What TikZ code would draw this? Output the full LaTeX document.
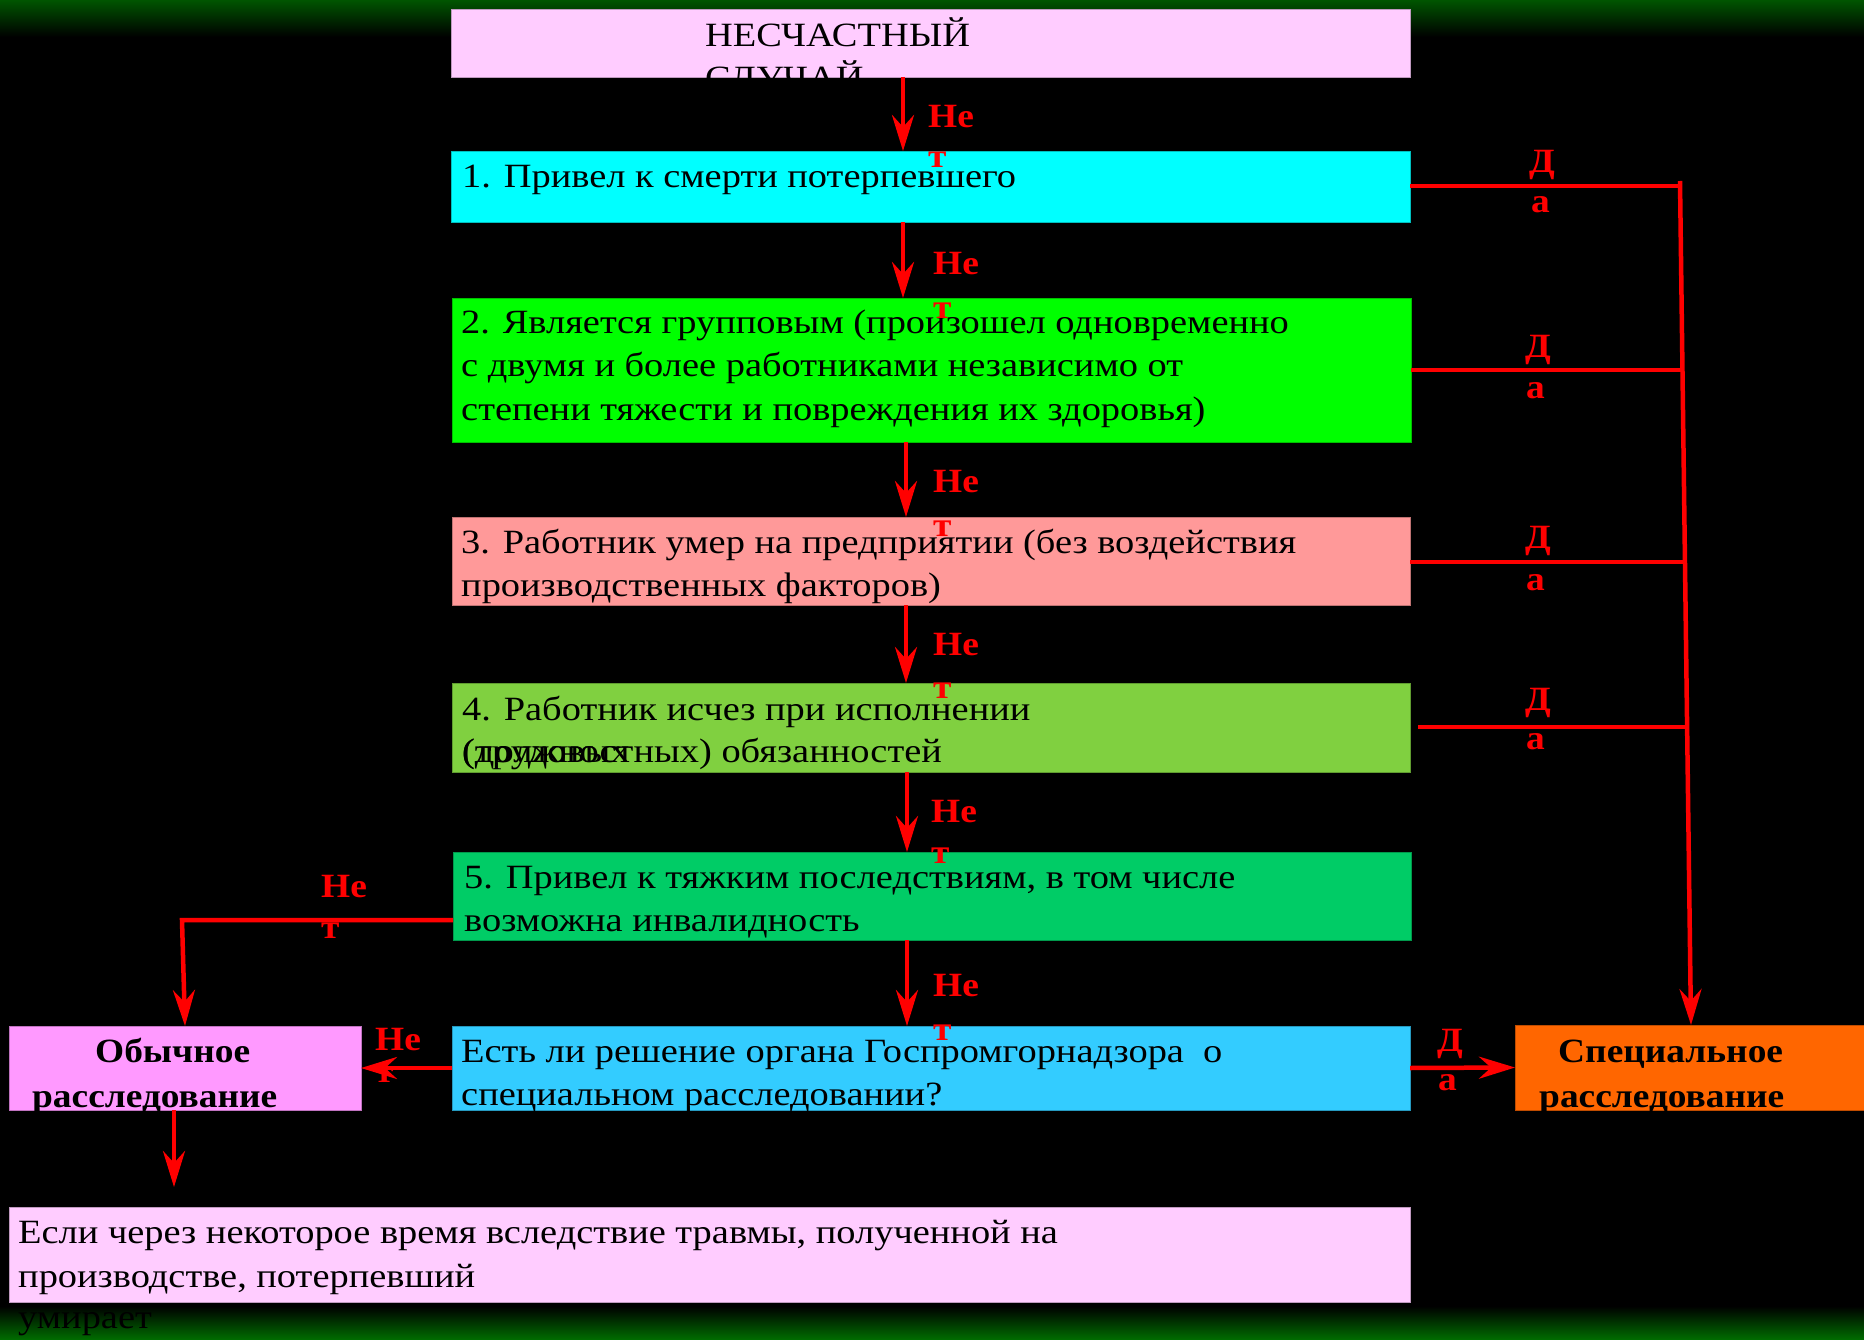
\documentclass[tikz,border=0pt]{standalone}
\usepackage{fontspec}
\setmainfont[FakeStretch=1.1]{Liberation Serif}
\newfontfamily\bodyfont[FakeStretch=1.13]{Liberation Serif}
\usetikzlibrary{arrows.meta}
\definecolor{cTop}{RGB}{255,204,255}
\definecolor{cOne}{RGB}{0,255,255}
\definecolor{cTwo}{RGB}{0,255,0}
\definecolor{cThree}{RGB}{255,153,153}
\definecolor{cFour}{RGB}{128,208,64}
\definecolor{cFive}{RGB}{0,204,102}
\definecolor{cQ}{RGB}{51,204,255}
\definecolor{cOb}{RGB}{255,153,255}
\definecolor{cSp}{RGB}{255,102,0}
\definecolor{gTop}{RGB}{0,85,0}
\definecolor{gBot}{RGB}{0,110,0}
\begin{document}
\begin{tikzpicture}[x=1pt,y=-1pt,
  boxnode/.style={rectangle, inner sep=0, outer sep=0, draw=#1!75!black, line width=0.8pt, fill=#1},
  boxtext/.style={anchor=base west, inner sep=0, text=black, font=\bodyfont\fontsize{34}{43}\selectfont},
  boldtext/.style={anchor=base west, inner sep=0, text=black, font=\fontsize{34}{43}\selectfont\bfseries},
  lab/.style={anchor=base west, inner sep=0, text=red, font=\fontsize{34}{42}\selectfont\bfseries},
  arr/.style={draw=red, line width=4.5pt, -{Stealth[length=36pt,width=22pt,inset=12pt]}},
  ln/.style={draw=red, line width=4pt}]
\useasboundingbox (0,0) rectangle (1864,1340);
\fill[black] (0,0) rectangle (1864,1340);
\shade[top color=gTop, bottom color=black] (0,0) rectangle (1864,37);
\shade[top color=black, bottom color=gBot] (0,1306) rectangle (1864,1340);

% boxes
\node[boxnode=cTop, minimum width=959, minimum height=68] (b0) at (930.5,43) {};
\node[boxnode=cOne, minimum width=959, minimum height=71] (b1) at (930.5,186.5) {};
\node[boxnode=cTwo, minimum width=959, minimum height=144] (b2) at (931.5,370) {};
\node[boxnode=cThree, minimum width=958, minimum height=88] (b3) at (931,561) {};
\node[boxnode=cFour, minimum width=958, minimum height=89] (b4) at (931,727.5) {};
\node[boxnode=cFive, minimum width=958, minimum height=88] (b5) at (932,896) {};
\node[boxnode=cQ, minimum width=958, minimum height=84] (bq) at (931,1068) {};
\node[boxnode=cOb, minimum width=352, minimum height=84] (bo) at (185,1068) {};
\node[boxnode=cSp, minimum width=352, minimum height=85] (bs) at (1691,1067.5) {};
\node[boxnode=cTop, minimum width=1401, minimum height=95] (bb) at (709.75,1254.5) {};

% texts
\node[boxtext] (t0a) at (705,47) {НЕСЧАСТНЫЙ};
\node[boxtext] (t0b) at (705,90) {СЛУЧАЙ};
\node[boxtext] (t1a) at (462,188) {1. Привел к смерти потерпевшего};
\node[boxtext] (t2a) at (461,334) {2. Является групповым (произошел одновременно};
\node[boxtext] (t2b) at (461,377) {с двумя и более работниками независимо от};
\node[boxtext] (t2c) at (461,420) {степени тяжести и повреждения их здоровья)};
\node[boxtext] (t3a) at (461,553) {3. Работник умер на предприятии (без воздействия};
\node[boxtext] (t3b) at (461,596) {производственных факторов)};
\node[boxtext] (t4a) at (462,720) {4. Работник исчез при исполнении};
\node[boxtext] (t4b) at (462,762) {(трудовых};
\node[boxtext] (t4c) at (462,762) {(должностных) обязанностей};
\node[boxtext] (t5a) at (464,888) {5. Привел к тяжким последствиям, в том числе};
\node[boxtext] (t5b) at (464,931) {возможна инвалидность};
\node[boxtext] (tqa) at (461,1062) {Есть ли решение органа Госпромгорнадзора\ \ о};
\node[boxtext] (tqb) at (461,1105) {специальном расследовании?};
\node[boldtext] (toa) at (95,1062) {Обычное};
\node[boldtext] (tob) at (32,1107) {расследование};
\node[boldtext] (tsa) at (1558,1062) {Специальное};
\node[boldtext] (tsb) at (1539,1107) {расследование};
\node[boxtext] (tba) at (18,1243) {Если через некоторое время вследствие травмы, полученной на};
\node[boxtext] (tbb) at (18,1287) {производстве, потерпевший};
\node[boxtext] (tbc) at (18,1328) {умирает};

% coordinates
\coordinate (xa) at (903,0);
\coordinate (xb) at (906,0);
\coordinate (xc) at (907,0);
\coordinate (vtop) at (1680,181);
\coordinate (c5) at (182,920);
\coordinate (c5b) at (185,0);
\coordinate (xo) at (174,0);
\coordinate (oend) at (174,1187);
\coordinate (e1) at (1680,186);
\coordinate (e2) at (1682,370);
\coordinate (e3) at (1683,562);
\coordinate (e4) at (1686,727);
\coordinate (s4) at (1418,727);

% vertical arrows (Нет)
\draw[arr] (b0.south -| xa) -- (b1.north -| xa);
\draw[arr] (b1.south -| xa) -- (b2.north -| xa);
\draw[arr] (b2.south -| xb) -- (b3.north -| xb);
\draw[arr] (b3.south -| xb) -- (b4.north -| xb);
\draw[arr] (b4.south -| xc) -- (b5.north -| xc);
\draw[arr] (b5.south -| xc) -- (bq.north -| xc);
% left branch
\draw[arr] (b5.west |- c5) -- (c5) -- (bo.north -| c5b);
\draw[arr] (bq.west) -- (bo.east);
\draw[arr] (bo.south -| xo) -- (oend);
% right branch (Да)
\draw[ln] (b1.east |- e1) -- (e1);
\draw[ln] (b2.east |- e2) -- (e2);
\draw[ln] (b3.east |- e3) -- (e3);
\draw[ln] (s4) -- (e4);
\draw[arr] (vtop) -- (bs.north);
\draw[arr] (bq.east) -- (bs.west);

% labels
\node[lab] (n1a) at (928,128) {Не};
\node[lab] (n1b) at (928,168) {т};
\node[lab] (n2a) at (933,275) {Не};
\node[lab] (n2b) at (933,319) {т};
\node[lab] (n3a) at (933,492) {Не};
\node[lab] (n3b) at (933,536) {т};
\node[lab] (n4a) at (933,655) {Не};
\node[lab] (n4b) at (933,698) {т};
\node[lab] (n5a) at (931,822) {Не};
\node[lab] (n5b) at (931,863) {т};
\node[lab] (n6a) at (933,996) {Не};
\node[lab] (n6b) at (933,1040) {т};
\node[lab] (n7a) at (321,897) {Не};
\node[lab] (n7b) at (321,938) {т};
\node[lab] (n8a) at (375,1050) {Не};
\node[lab] (n8b) at (375,1082) {т};
\node[lab] (d1a) at (1529,173) {Д};
\node[lab] (d1b) at (1531,213) {а};
\node[lab] (d2a) at (1525,357) {Д};
\node[lab] (d2b) at (1526,398) {а};
\node[lab] (d3a) at (1525,548) {Д};
\node[lab] (d3b) at (1526,590) {а};
\node[lab] (d4a) at (1525,710) {Д};
\node[lab] (d4b) at (1526,749) {а};
\node[lab] (d5a) at (1437,1051) {Д};
\node[lab] (d5b) at (1438,1090) {а};
\end{tikzpicture}
\end{document}
